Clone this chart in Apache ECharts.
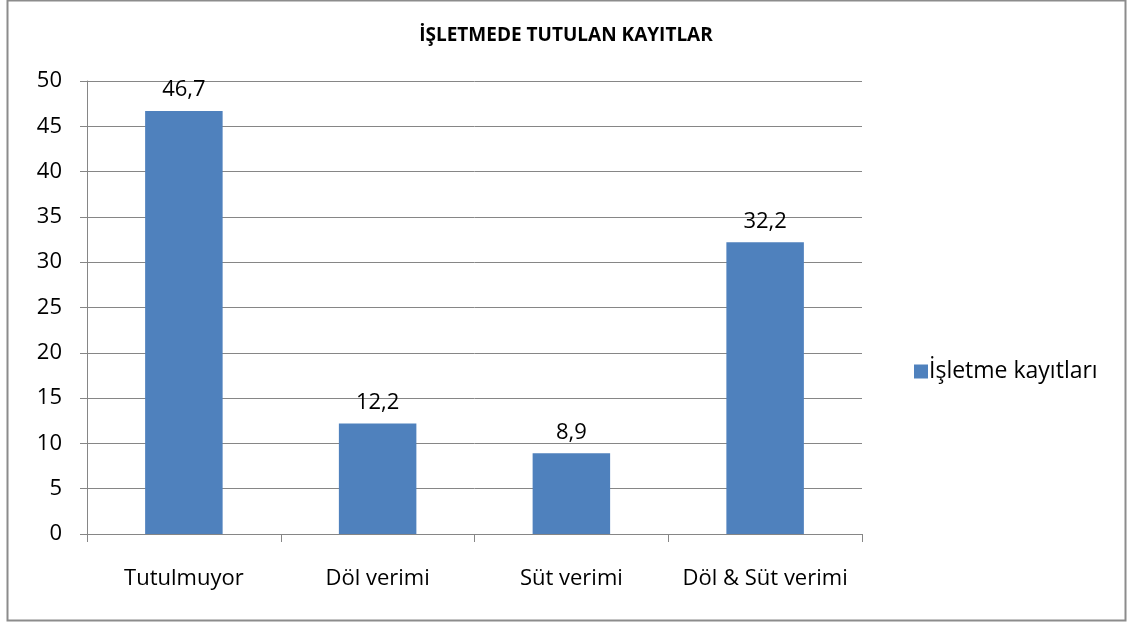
<!DOCTYPE html>
<html>
<head>
<meta charset="utf-8">
<script src="https://cdn.jsdelivr.net/npm/echarts@6/dist/echarts.min.js"></script>
<style>
  html, body { margin: 0; padding: 0; background: #fff; }
  #main { width: 1133px; height: 623px; }
</style>
</head>
<body>
<div id="main"></div>
<script>
var categories = ['Tutulmuyor', 'Döl verimi', 'Süt verimi', 'Döl & Süt verimi'];
var values = [46.7, 12.2, 8.9, 32.2];
var seriesName = 'İşletme kayıtları';

var myChart = echarts.init(document.getElementById('main'));

var option = {
    backgroundColor: '#fff',
    animation: false,
    title: {
        text: 'İŞLETMEDE TUTULAN KAYITLAR',
        left: 561,
        top: 21,
        textAlign: 'center',
        textStyle: {
            fontFamily: 'Open Sans',
            fontSize: 19,
            fontWeight: 'bold',
            color: '#000'
        }
    },
    legend: {
        data: [seriesName],
        orient: 'vertical',
        left: 909,
        top: 355,
        itemWidth: 14,
        itemHeight: 14,
        itemGap: 4,
        icon: 'rect',
        textStyle: {
            fontFamily: 'Open Sans',
            fontSize: 23,
            color: '#000',
            padding: [0, 0, 0, -4]
        }
    },
    grid: {
        left: 87,
        right: 271,
        top: 81,
        bottom: 89,
        containLabel: false
    },
    xAxis: {
        type: 'category',
        data: categories,
        axisLine: { lineStyle: { color: '#868686', width: 1 } },
        axisTick: { show: true, interval: 0, length: 8, alignWithLabel: false, lineStyle: { color: '#868686' } },
        axisLabel: {
            interval: 0,
            fontFamily: 'Open Sans',
            fontSize: 22,
            color: '#000',
            margin: 34
        }
    },
    yAxis: {
        type: 'value',
        min: 0,
        max: 50,
        interval: 5,
        axisLine: { show: true, lineStyle: { color: '#868686', width: 1 } },
        axisTick: { show: true, length: 7, lineStyle: { color: '#868686' } },
        splitLine: { show: true, lineStyle: { color: '#868686', width: 1 } },
        axisLabel: {
            fontFamily: 'Open Sans',
            fontSize: 22,
            color: '#000',
            margin: 25
        }
    },
    series: [{
        name: seriesName,
        type: 'bar',
        data: values,
        barWidth: '40%',
        itemStyle: { color: '#4F81BD' },
        label: {
            show: true,
            position: 'top',
            distance: 10,
            fontFamily: 'Open Sans',
            fontSize: 22,
            color: '#000',
            formatter: function (p) {
                return String(p.value).replace('.', ',');
            }
        }
    }],
    graphic: [{
        type: 'rect',
        shape: { x: 7.5, y: 0.5, width: 1118, height: 620 },
        style: { fill: 'none', stroke: '#8c8c8c', lineWidth: 2 },
        silent: true
    }]
};
myChart.setOption(option);
</script>
</body>
</html>
